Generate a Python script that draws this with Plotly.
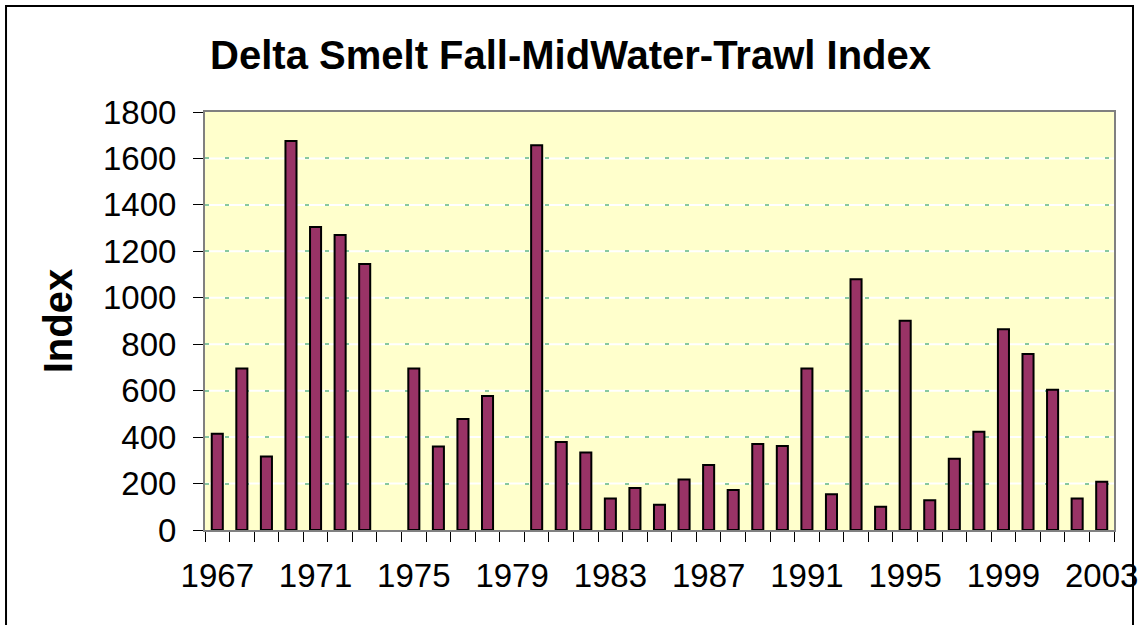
import plotly.graph_objects as go

# FMWT index by year (None = no survey)
years = list(range(1967, 2004))
index_vals = [415, 695, 316, 1675, 1305, 1270, 1145, None, 695, 360,
              478, 577, None, 1657, 379, 334, 136, 181, 109, 217,
              280, 172, 370, 362, 695, 154, 1080, 100, 901, 128,
              307, 423, 865, 758, 604, 136, 208]
y_ticks = [0, 200, 400, 600, 800, 1000, 1200, 1400, 1600, 1800]
x_labels = [1967, 1971, 1975, 1979, 1983, 1987, 1991, 1995, 1999, 2003]

fig = go.Figure()
fig.add_trace(go.Bar(
    x=years,
    y=index_vals,
    width=0.45,
    marker=dict(color="#993366", line=dict(color="black", width=2)),
    showlegend=False
))

# white band under the green dashed grid
for v in y_ticks[1:-1]:
    fig.add_shape(type="line", xref="paper", x0=0, x1=1, y0=v, y1=v,
                  line=dict(color="white", width=2), layer="below")

# outer chart frame
fig.add_shape(type="rect", xref="paper", yref="paper",
              x0=-0.2189, x1=1.0209, y0=-0.5, y1=1.2536,
              line=dict(color="black", width=2), layer="above")

fig.update_layout(
    width=1148,
    height=625,
    margin=dict(l=205, r=34, t=112, b=95),
    paper_bgcolor="white",
    plot_bgcolor="#FFFFCC",
    font=dict(family="Liberation Sans, Arial", color="black"),
    title=dict(
        text="<b>Delta Smelt Fall-MidWater-Trawl Index</b>",
        x=0.497, xanchor="center", y=0.912, yanchor="middle",
        font=dict(size=40, color="black")
    ),
    xaxis=dict(
        range=[1966.5, 2003.5],
        tickvals=x_labels,
        ticktext=[str(y) for y in x_labels],
        ticks="",
        tickfont=dict(size=33),
        ticklabelstandoff=15,
        automargin=False,
        minor=dict(
            tickvals=[y - 0.5 for y in years] + [2003.5],
            ticks="outside", ticklen=10, tickwidth=1, tickcolor="black",
            showgrid=False
        ),
        showgrid=False,
        showline=True, linecolor="#808080", linewidth=2, mirror=True,
        zeroline=False
    ),
    yaxis=dict(
        range=[0, 1800],
        tickvals=y_ticks,
        ticks="outside", ticklen=10, tickcolor="black", tickwidth=1,
        tickfont=dict(size=33),
        ticklabelstandoff=10,
        automargin=False,
        showgrid=True, gridcolor="#88C8A0", gridwidth=2, griddash="4px,16px",
        showline=True, linecolor="#808080", linewidth=2, mirror=True,
        zeroline=False,
        title=dict(text="<b>Index</b>", font=dict(size=40), standoff=18)
    )
)

# drop the default page margin so the figure sits at the window corner
fig.write_html("out.html", config={"displayModeBar": False},
               post_script="document.body.style.margin='0';")
